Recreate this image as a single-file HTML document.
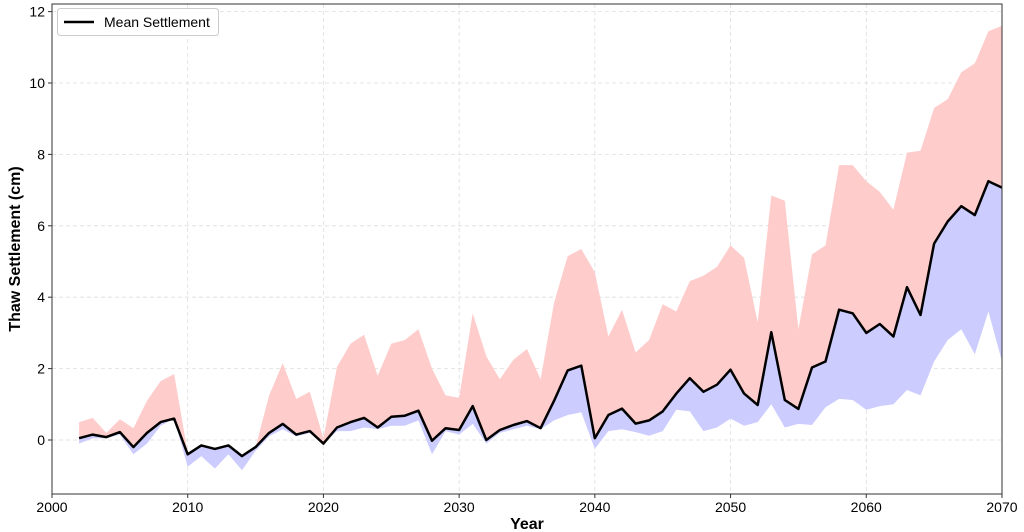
<!DOCTYPE html>
<html><head><meta charset="utf-8"><style>body{margin:0;background:#fff}svg{display:block;font-family:"Liberation Sans",Arial,sans-serif}</style></head>
<body><svg id="s" width="1024" height="532" xmlns="http://www.w3.org/2000/svg"></svg>
<script>
const M=[0.05,0.15,0.08,0.22,-0.2,0.2,0.5,0.6,-0.4,-0.15,-0.25,-0.15,-0.45,-0.2,0.2,0.45,0.15,0.25,-0.1,0.35,0.5,0.62,0.35,0.65,0.68,0.82,-0.02,0.33,0.28,0.95,0.0,0.28,0.42,0.53,0.33,1.1,1.95,2.08,0.05,0.7,0.88,0.46,0.55,0.8,1.3,1.73,1.35,1.55,1.97,1.3,0.98,3.02,1.12,0.87,2.03,2.2,3.65,3.55,3.0,3.25,2.9,4.28,3.5,5.5,6.12,6.55,6.3,7.25,7.07];
const U=[0.5,0.62,0.2,0.58,0.33,1.1,1.65,1.85,-0.35,-0.15,-0.25,-0.15,-0.45,-0.2,1.25,2.15,1.15,1.35,0.05,2.05,2.7,2.95,1.8,2.7,2.8,3.1,2.0,1.25,1.18,3.55,2.35,1.7,2.25,2.55,1.7,3.85,5.15,5.35,4.7,2.9,3.65,2.45,2.8,3.8,3.6,4.45,4.6,4.85,5.45,5.1,3.3,6.85,6.7,3.1,5.2,5.45,7.7,7.7,7.25,6.95,6.45,8.05,8.1,9.3,9.55,10.3,10.55,11.45,11.6];
const L=[-0.1,0.05,0.05,0.15,-0.4,-0.1,0.4,0.6,-0.75,-0.45,-0.8,-0.4,-0.85,-0.3,0.1,0.3,0.1,0.2,-0.1,0.25,0.25,0.35,0.3,0.4,0.4,0.55,-0.4,0.25,0.15,0.45,-0.1,0.2,0.3,0.4,0.3,0.55,0.7,0.78,-0.25,0.25,0.3,0.22,0.12,0.25,0.85,0.8,0.25,0.35,0.6,0.4,0.5,1.0,0.35,0.45,0.42,0.92,1.15,1.12,0.85,0.95,1.0,1.4,1.25,2.2,2.8,3.1,2.4,3.6,2.2];
const X=y=>52+(y-2000)*13.571, Y=v=>440-v*35.7;
let h='';
for(let v=0;v<=12;v+=2)h+=`<line x1="52" x2="1002" y1="${Y(v)}" y2="${Y(v)}" stroke="#ddd" stroke-dasharray="4,3" stroke-width="0.8"/>`;
for(let y=2000;y<=2070;y+=10)h+=`<line y1="4" y2="494" x1="${X(y)}" x2="${X(y)}" stroke="#ddd" stroke-dasharray="4,3" stroke-width="0.8"/>`;
const pts=a=>a.map((v,i)=>X(2002+i).toFixed(1)+','+Y(v).toFixed(1));
h+=`<polygon fill="#ffcccc" points="${pts(U).join(' ')} ${pts(M).reverse().join(' ')}"/>`;
h+=`<polygon fill="#ccccff" points="${pts(M).join(' ')} ${pts(L).reverse().join(' ')}"/>`;
h+=`<polyline fill="none" stroke="#000" stroke-width="2.5" stroke-linejoin="round" points="${pts(M).join(' ')}"/>`;
h+=`<rect x="52" y="4" width="950" height="490" fill="none" stroke="#333" stroke-width="1"/>`;
for(let v=0;v<=12;v+=2)h+=`<line x1="48" x2="52" y1="${Y(v)}" y2="${Y(v)}" stroke="#333"/><text x="45" y="${Y(v)+5}" text-anchor="end" font-size="14">${v}</text>`;
for(let y=2000;y<=2070;y+=10)h+=`<line y1="494" y2="498" x1="${X(y)}" x2="${X(y)}" stroke="#333"/><text x="${X(y)}" y="512" text-anchor="middle" font-size="14">${y}</text>`;
h+=`<text x="527" y="529" text-anchor="middle" font-size="16" font-weight="bold">Year</text>`;
h+=`<text transform="translate(20,249) rotate(-90)" text-anchor="middle" font-size="16" font-weight="bold">Thaw Settlement (cm)</text>`;
h+=`<rect x="57.5" y="8.5" width="161" height="27" rx="3" fill="#fff" stroke="#ccc"/><line x1="64" x2="94" y1="22" y2="22" stroke="#000" stroke-width="2.5"/><text x="104" y="27" font-size="14">Mean Settlement</text>`;
document.getElementById('s').innerHTML=h;
</script></body></html>
